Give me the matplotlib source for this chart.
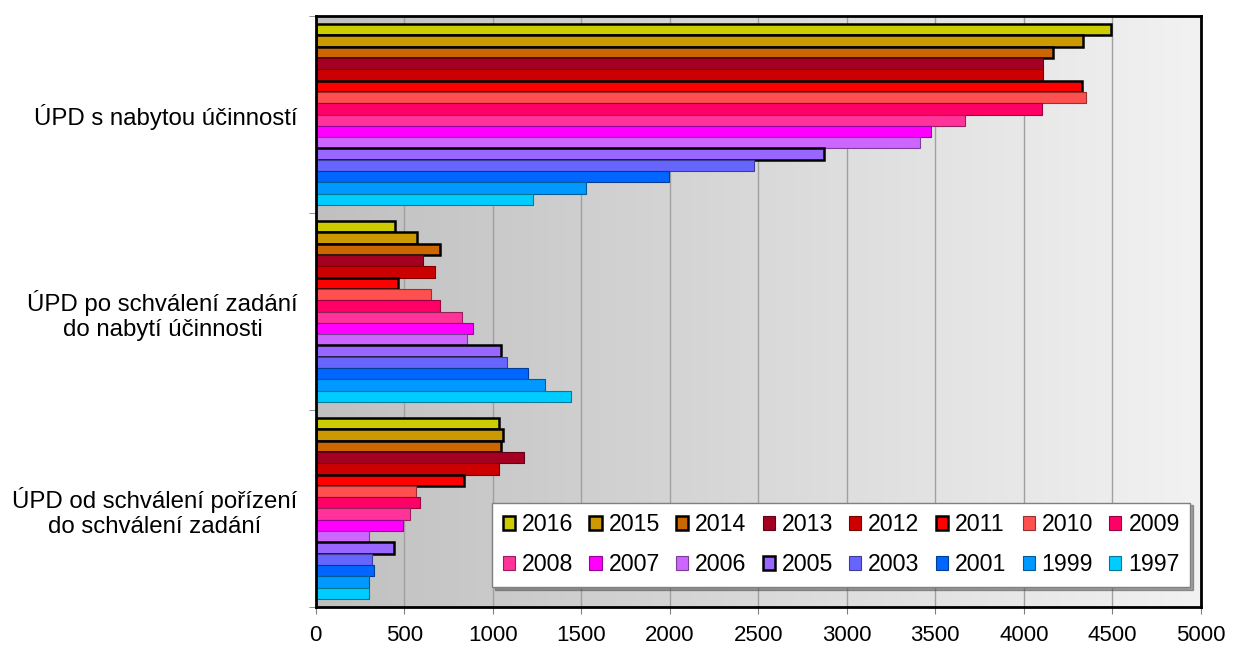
import numpy as np
import matplotlib
matplotlib.use("Agg")
import matplotlib.pyplot as plt
from matplotlib.colors import to_rgb, LinearSegmentedColormap

plt.rcParams['font.family'] = ['Liberation Sans', 'DejaVu Sans']

categories = ["ÚPD s nabytou účinností",
              "ÚPD po schválení zadání\ndo nabytí účinnosti",
              "ÚPD od schválení pořízení\ndo schválení zadání"]
years = ["2016", "2015", "2014", "2013", "2012", "2011", "2010", "2009",
         "2008", "2007", "2006", "2005", "2003", "2001", "1999", "1997"]
colors = ["#CCCC00", "#CC9900", "#CC6600", "#A50021", "#CC0000", "#FF0000",
          "#FF5050", "#FF0066", "#FF3399", "#FF00FF", "#CC66FF", "#9966FF",
          "#6666FF", "#0066FF", "#0099FF", "#00CCFF"]
bold_years = ["2016", "2015", "2014", "2011", "2005"]

# values per year: [s nabytou účinností, po schválení zadání, od schválení pořízení]
v2016 = [4490, 450, 1035]
v2015 = [4333, 574, 1056]
v2014 = [4164, 700, 1047]
v2013 = [4107, 608, 1175]
v2012 = [4107, 672, 1037]
v2011 = [4328, 463, 838]
v2010 = [4350, 651, 567]
v2009 = [4105, 704, 591]
v2008 = [3668, 828, 533]
v2007 = [3473, 890, 491]
v2006 = [3412, 855, 303]
v2005 = [2870, 1045, 441]
v2003 = [2473, 1083, 320]
v2001 = [1994, 1201, 331]
v1999 = [1527, 1297, 303]
v1997 = [1228, 1444, 301]
values = [v2016, v2015, v2014, v2013, v2012, v2011, v2010, v2009,
          v2008, v2007, v2006, v2005, v2003, v2001, v1999, v1997]

fig = plt.figure(figsize=(12.33, 6.51), dpi=100)
ax = fig.add_axes([0.2561, 0.0676, 0.7178, 0.9078])

# gradient background
grad = np.linspace(0, 1, 256).reshape(1, -1)
cmap = LinearSegmentedColormap.from_list("bg", ["#c0c0c0", "#f2f2f2"])
ax.imshow(grad, extent=[0, 5000, 2.5, -0.5], aspect='auto', cmap=cmap, zorder=0)

n = len(years)
span = 0.92
bh = span / n
cat_pos = np.arange(len(categories))
handles = []
for j, (yr, col, vals) in enumerate(zip(years, colors, values)):
    ypos = cat_pos - span / 2 + (j + 0.5) * bh
    if yr in bold_years:
        ec, lw = "black", 1.8
    else:
        ec, lw = tuple(c * 0.6 for c in to_rgb(col)), 0.8
    b = ax.barh(ypos, vals, height=bh, color=col, edgecolor=ec, linewidth=lw,
                label=yr, zorder=3)
    handles.append(b)

ax.set_xlim(0, 5000)
ax.set_ylim(2.5, -0.5)
ax.set_xticks(np.arange(0, 5001, 500))
ax.tick_params(axis='x', labelsize=16, length=5, color='#808080', pad=8)
ax.set_yticks(cat_pos)
ax.set_yticklabels(categories, fontsize=17.3, multialignment='center')
ax.tick_params(axis='y', which='major', length=0, pad=13)
ax.set_yticks([-0.5, 0.5, 1.5, 2.5], minor=True)
ax.tick_params(axis='y', which='minor', length=5, color='#808080')
ax.xaxis.grid(True, color='#a0a0a0', linewidth=1, zorder=1)
ax.set_axisbelow(True)
for s in ax.spines.values():
    s.set_linewidth(2)
    s.set_color('black')
    s.set_zorder(5)

# reorder so that legend fills row by row
ncol = 8
order = []
for c in range(ncol):
    order += [c, c + ncol]
leg = ax.legend([handles[i] for i in order], [years[i] for i in order],
                ncol=ncol, loc='lower right', bbox_to_anchor=(0.988, 0.034),
                fontsize=16.7, fancybox=False, shadow=True, framealpha=1,
                edgecolor='#808080', handlelength=0.52, handleheight=0.52,
                handletextpad=0.3, columnspacing=0.7, labelspacing=0.75,
                borderpad=0.45, borderaxespad=0)
leg.get_frame().set_linewidth(1)
leg.set_zorder(10)

fig.savefig("out.png", dpi=100)
